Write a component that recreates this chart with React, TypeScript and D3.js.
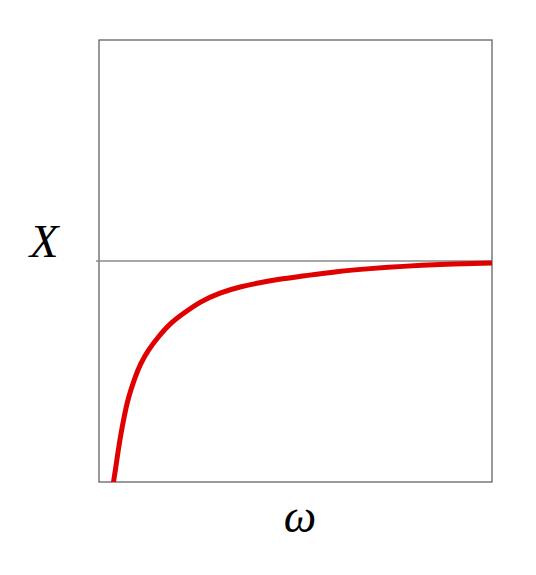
import React, { useEffect, useRef } from 'react';
import * as d3 from 'd3';

// curve points (omega 0..1, X in units of the asymptote)
const omega = [0.036, 0.043, 0.049, 0.056, 0.064, 0.072, 0.081, 0.092, 0.106, 0.125, 0.151, 0.181, 0.215, 0.257, 0.308, 0.359, 0.410, 0.456, 0.520, 0.605, 0.690, 0.774, 0.859, 1.0];
const xVals = [-0.01, 0.069, 0.145, 0.220, 0.295, 0.363, 0.416, 0.476, 0.537, 0.597, 0.657, 0.718, 0.763, 0.816, 0.857, 0.884, 0.902, 0.917, 0.932, 0.953, 0.966, 0.976, 0.984, 0.991];
const asymptote = [1];
const xDomain = [0, 1];
const yDomain = [0, 2];

function drawChart(svgRef: React.RefObject<SVGSVGElement>) {
    const svg = d3.select(svgRef.current);
    svg.selectAll("*").remove();

    const w = 536;
    const h = 575;
    const left = 99, right = 492, top = 40, bottom = 482;

    const x = d3.scaleLinear().domain(xDomain).range([left, right]);
    const y = d3.scaleLinear().domain(yDomain).range([bottom, top]);

    svg.attr("width", w).attr("height", h);

    svg.append("defs")
        .append("clipPath")
        .attr("id", "plot-clip")
        .append("rect")
        .attr("x", left)
        .attr("y", top)
        .attr("width", right - left)
        .attr("height", bottom - top);

    // frame
    svg.append("rect")
        .attr("x", left)
        .attr("y", top)
        .attr("width", right - left)
        .attr("height", bottom - top)
        .attr("fill", "none")
        .attr("stroke", "#555")
        .attr("stroke-width", 1.2);

    // asymptote line
    svg.append("line")
        .attr("x1", left - 3)
        .attr("x2", right)
        .attr("y1", y(asymptote[0]))
        .attr("y2", y(asymptote[0]))
        .attr("stroke", "#8a8a8a")
        .attr("stroke-width", 1.5);

    const points: [number, number][] = omega.map((o, i) => [o, xVals[i]]);
    const line = d3.line<[number, number]>()
        .x(d => x(d[0]))
        .y(d => y(d[1]))
        .curve(d3.curveBasis);

    svg.append("path")
        .attr("d", line(points))
        .attr("fill", "none")
        .attr("stroke", "#e00000")
        .attr("stroke-width", 5)
        .attr("clip-path", "url(#plot-clip)");

    svg.append("text")
        .attr("x", 44)
        .attr("y", 257)
        .attr("text-anchor", "middle")
        .attr("font-family", "Liberation Serif, serif")
        .attr("font-style", "italic")
        .attr("font-size", 47)
        .attr("fill", "#000")
        .text("X");

    svg.append("text")
        .attr("x", 300)
        .attr("y", 532)
        .attr("text-anchor", "middle")
        .attr("font-family", "Liberation Serif, serif")
        .attr("font-style", "italic")
        .attr("font-size", 46)
        .attr("fill", "#000")
        .text("ω");
}

export default function App() {
    const svg = useRef<SVGSVGElement>(null);

    useEffect(() => {
        drawChart(svg);
    }, []);

    return (
        <div id="chart" style={{ position: "absolute", left: 0, top: 0 }}>
            <svg ref={svg} style={{ display: "block" }} />
        </div>
    );
}
